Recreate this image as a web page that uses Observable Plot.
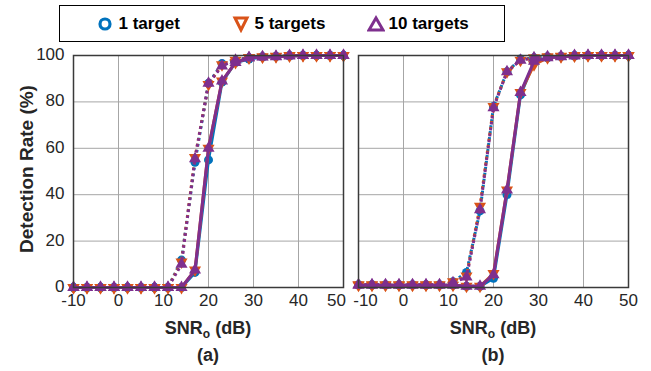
<!DOCTYPE html>
<html><head><meta charset="utf-8">
<script src="https://cdn.jsdelivr.net/npm/d3@7"></script>
<script src="https://cdn.jsdelivr.net/npm/@observablehq/plot@0.6"></script>
<style>
body{margin:0;background:#fff;font-family:Arial,"Liberation Sans",sans-serif;}
#wrap{position:relative;width:651px;height:371px;overflow:hidden;background:#fff;}
#legend{position:absolute;left:59px;top:5px;width:444px;height:35px;border:1.5px solid #000;box-sizing:content-box;}
.lt{position:absolute;top:0;height:35px;line-height:35px;font-weight:bold;font-size:17px;color:#000;white-space:nowrap;}
.lic{position:absolute;top:8.5px;}
.pl{position:absolute;top:45px;}
.xl{position:absolute;width:200px;text-align:center;font-weight:bold;font-size:18px;color:#262626;}
.xl sub{font-size:12px;vertical-align:-4px;line-height:0;}
#yl{position:absolute;left:27px;top:169px;transform:translate(-50%,-50%) rotate(-90deg);white-space:nowrap;font-weight:bold;font-size:19px;color:#262626;}
</style></head><body>
<div id="wrap">
  <div id="legend"></div>
  <div id="pa" class="pl" style="left:0px"></div>
  <div id="pb" class="pl" style="left:352px"></div>
  <div id="yl">Detection Rate (%)</div>
  <div class="xl" style="left:108px;top:318px">SNR<sub>o</sub> (dB)</div>
  <div class="xl" style="left:108px;top:345px">(a)</div>
  <div class="xl" style="left:393px;top:318px">SNR<sub>o</sub> (dB)</div>
  <div class="xl" style="left:393px;top:345px">(b)</div>
</div>
<script>
// ---- data ----
const snr = [-10,-7,-4,-1,2,5,8,11,14,17,20,23,26,29,32,35,38,41,44,47,50];
const seriesNames = ["1 target","5 targets","10 targets"];
const seriesColors = ["#0072BD","#D95319","#7E2F8E"];
const xTicks = [-10,0,10,20,30,40,50];
const yTicks = [0,20,40,60,80,100];

// panel (a)
const aSolid1  = [0,0,0,0,0,0,0,0,0,6.5,55,88.5,97,98.5,99.3,99.5,99.8,100,100,100,100];
const aSolid5  = [0,0,0,0,0,0,0,0,0,7.5,60,89,97,99,99.3,99.5,99.8,100,100,100,100];
const aSolid10 = [0,0,0,0,0,0,0,0,0,7.5,60,89,97,99,99.3,99.5,99.8,100,100,100,100];
const aDot1    = [0,0,0,0,0,0,0,0,11.8,54,88,96.5,98,99,99.5,99.7,100,100,100,100,100];
const aDot5    = [0,0,0,0,0,0,0,0,11,56,87.5,96,98,99,99.5,99.7,100,100,100,100,100];
const aDot10   = [0,0,0,0,0,0,0,0,10,55.5,88,95.5,98,99,99.5,99.7,100,100,100,100,100];

// panel (b)
const bSolid1  = [1,1,1,1,1,1,1,1,0.5,0.5,4,40,83,97,99,99.5,99.8,100,100,100,100];
const bSolid5  = [1,1,1,1,1,1,1,1,0.5,0.5,6,42,84,96,99,99.5,99.8,100,100,100,100];
const bSolid10 = [1,1,1,1,1,1,1,1,0.5,0.5,5.5,42,84,97.5,99,99.5,99.8,100,100,100,100];
const bDot1    = [1.2,1.2,1.2,1.2,1.2,1.2,1.2,2.5,6.5,33,78,93,98.5,99,99.5,99.7,100,100,100,100,100];
const bDot5    = [1.2,1.2,1.2,1.2,1.2,1.2,1.2,2.5,5,35,78,93,98,99,99.5,99.7,100,100,100,100,100];
const bDot10   = [1.2,1.2,1.2,1.2,1.2,1.2,1.2,2,4.5,33.5,77.5,93,98,99,99.5,99.7,100,100,100,100,100];

// ---- legend ----
const legendTextX = [58.5, 194.5, 328.5];
const legendIconX = [36.5, 172, 307];
const legendIcons = [
  '<svg width="16" height="18"><circle cx="8" cy="9" r="5" fill="none" stroke="#0072BD" stroke-width="3.2"/></svg>',
  '<svg width="18" height="18"><path d="M3,3 L15,3 L9,15 Z" fill="none" stroke="#D95319" stroke-width="3" stroke-linejoin="miter"/></svg>',
  '<svg width="18" height="18"><path d="M2,15 L16,15 L9,3 Z" fill="none" stroke="#7E2F8E" stroke-width="3" stroke-linejoin="miter"/></svg>'
];
const leg = document.getElementById("legend");
seriesNames.forEach((n,i)=>{
  const ic = document.createElement("div");
  ic.className = "lic"; ic.style.left = legendIconX[i] + "px";
  ic.innerHTML = legendIcons[i];
  leg.appendChild(ic);
  const t = document.createElement("div");
  t.className = "lt"; t.style.left = legendTextX[i] + "px";
  t.textContent = n;
  leg.appendChild(t);
});

// ---- plots ----
function toRows(arr){ return snr.map((x,i)=>({x, v: arr[i]})); }
const symbols = ["circle","triangle","triangle"];
const rotates = [0,180,0];
const fmt = d => String(d);

function panel(solids, dots, opts){
  const marks = [
    Plot.ruleX(xTicks, {stroke:"#a6a6a6", strokeWidth:1}),
    Plot.ruleY(yTicks, {stroke:"#a6a6a6", strokeWidth:1}),
  ];
  for (let i=0;i<3;i++){
    marks.push(Plot.line(toRows(dots[i]), {x:"x", y:"v", stroke:seriesColors[i], strokeWidth:3, strokeDasharray:"2.6,3.4", strokeLinecap:"butt"}));
    marks.push(Plot.line(toRows(solids[i]), {x:"x", y:"v", stroke:seriesColors[i], strokeWidth:3}));
    marks.push(Plot.dot(toRows(dots[i]), {x:"x", y:"v", fill:seriesColors[i], r:4.5, symbol:symbols[i], rotate:rotates[i]}));
    marks.push(Plot.dot(toRows(solids[i]), {x:"x", y:"v", fill:seriesColors[i], r:4.5, symbol:symbols[i], rotate:rotates[i]}));
  }
  marks.push(Plot.frame({stroke:"#3a3a3a", strokeWidth:1.5}));
  // x tick labels; edge labels nudged inward as in the reference
  const inner = opts.left ? xTicks.slice(0, -1) : xTicks.slice(1);
  const edge = opts.left ? [xTicks[xTicks.length-1]] : [xTicks[0]];
  marks.push(Plot.axisX(inner, {tickSize:0, tickPadding:6, tickFormat:fmt, label:null, fontSize:17}));
  marks.push(Plot.axisX(edge, {tickSize:0, tickPadding:6, tickFormat:fmt, label:null, fontSize:17, dx: opts.left ? -7 : 7}));
  if (opts.left) marks.push(Plot.axisY(yTicks, {tickSize:0, tickPadding:9, tickFormat:fmt, label:null, fontSize:17, dy:-1}));
  return Plot.plot({
    width: opts.width, height: 270,
    marginLeft: opts.ml, marginRight: opts.mr, marginTop: 10, marginBottom: 28,
    style: {fontFamily: "Arial, 'Liberation Sans', sans-serif", fontSize: "17px", color: "#262626", overflow: "visible", background: "transparent"},
    x: {domain:[-10,50]},
    y: opts.left ? {domain:[0,100]} : {domain:[0,100], axis:null},
    marks
  });
}

document.getElementById("pa").appendChild(panel([aSolid1,aSolid5,aSolid10],[aDot1,aDot5,aDot10],{width:352, ml:73, mr:9, left:true}));
document.getElementById("pb").appendChild(panel([bSolid1,bSolid5,bSolid10],[bDot1,bDot5,bDot10],{width:299, ml:6, mr:23, left:false}));
</script>
</body></html>
